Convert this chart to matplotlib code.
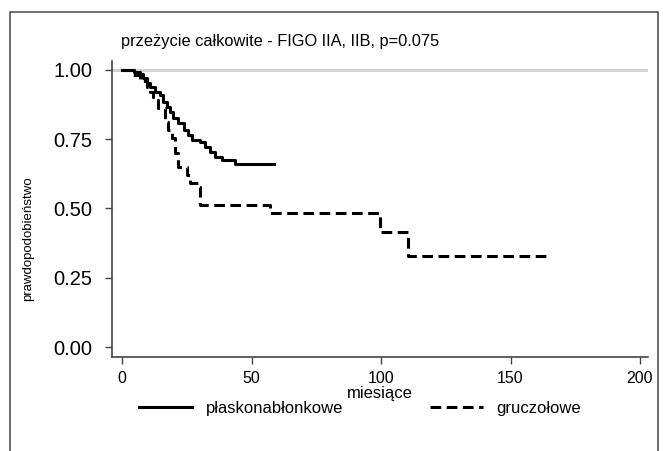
import numpy as np
import matplotlib
matplotlib.use('Agg')
import matplotlib.pyplot as plt
from matplotlib.patches import Rectangle

plt.rcParams['font.family'] = ['Liberation Sans', 'DejaVu Sans']

# Kaplan-Meier step data (months, survival)
t_plask = [0, 4.4, 6.9, 8.2, 9.5, 10.8, 12.7, 14.7, 15.9, 17.2, 18.5, 19.8, 21.7,
           23.7, 25.6, 26.9, 30.1, 32.0, 34.0, 35.9, 38.5, 43.6, 58.5]
s_plask = [1.0, 0.993, 0.984, 0.969, 0.951, 0.939, 0.921, 0.909, 0.885, 0.867, 0.849,
           0.825, 0.806, 0.782, 0.764, 0.746, 0.740, 0.722, 0.704, 0.686, 0.674, 0.660, 0.660]

t_gru = [0, 4, 7, 9.5, 10.8, 12.1, 14.0, 16.6, 17.9, 19.2, 20.5, 21.7, 25.0, 26.3,
         29.5, 30.1, 57.1, 99.6, 110.5, 164]
s_gru = [1.0, 0.98, 0.96, 0.939, 0.921, 0.891, 0.861, 0.812, 0.782, 0.752, 0.698,
         0.650, 0.620, 0.590, 0.578, 0.512, 0.484, 0.413, 0.329, 0.329]

labels = ['płaskonabłonkowe', 'gruczołowe']
xticks = [0, 50, 100, 150, 200]
yticks = [0.0, 0.25, 0.5, 0.75, 1.0]

fig = plt.figure(figsize=(6.63, 4.51), dpi=100)
ax = fig.add_axes([0.169, 0.209, 0.808, 0.655])

ax.axhline(1.0, color='#d3d3d3', lw=2.2, zorder=1)
ax.step(t_plask, s_plask, where='post', color='black', lw=2.2, label=labels[0], zorder=3)
ax.step(t_gru, s_gru, where='post', color='black', lw=2.2, ls=(0, (3.5, 1.8)),
        label=labels[1], zorder=3)

ax.set_xlim(-3.9, 203)
ax.set_ylim(-0.035, 1.03)
ax.set_xticks(xticks)
ax.set_yticks(yticks)
ax.set_yticklabels(['%.2f' % v for v in yticks])

for side in ['top', 'right']:
    ax.spines[side].set_visible(False)
for side in ['left', 'bottom']:
    ax.spines[side].set_color('#444444')
    ax.spines[side].set_linewidth(1.2)

ax.tick_params(axis='y', labelsize=14.5, length=5, width=1, color='#444444', pad=9)
ax.tick_params(axis='x', labelsize=11.5, length=5, width=1, color='#444444', pad=5)

ax.set_xlabel('miesiące', fontsize=12, labelpad=0)
ax.set_ylabel('prawdopodobieństwo', fontsize=9.5)
ax.yaxis.set_label_coords(-0.145, 0.4)

fig.text(0.182, 0.907, 'przeżycie całkowite - FIGO IIA, IIB, p=0.075',
         fontsize=11.8, ha='left', va='center')

fig.legend(loc='center', bbox_to_anchor=(0.543, 0.095), ncol=2, frameon=False,
           fontsize=12, handlelength=3.2, columnspacing=5.2, handletextpad=0.8)

# outer frame
fig.patches.append(Rectangle((10 / 663, -0.05), 648 / 663, 1 - 12 / 451 + 0.05,
                             transform=fig.transFigure, fill=False,
                             edgecolor='#555555', lw=1.2))

fig.savefig('out.png', dpi=100)
